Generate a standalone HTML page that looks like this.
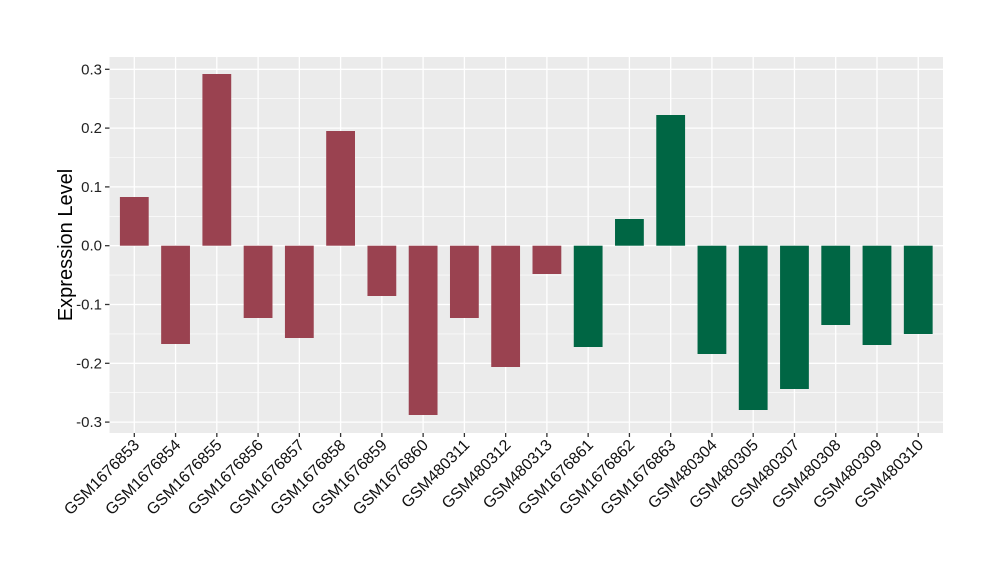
<!DOCTYPE html>
<html><head><style>body{margin:0;background:#fff}</style></head><body>
<svg width="1000" height="580" xmlns="http://www.w3.org/2000/svg" font-family="Liberation Sans, sans-serif">
<rect x="109.5" y="57" width="833.5" height="376" fill="#ebebeb"/>
<g stroke="#fff" stroke-width="0.6">
<line x1="109.5" x2="943" y1="98.7" y2="98.7"/><line x1="109.5" x2="943" y1="157.5" y2="157.5"/><line x1="109.5" x2="943" y1="216.3" y2="216.3"/><line x1="109.5" x2="943" y1="275.1" y2="275.1"/><line x1="109.5" x2="943" y1="333.9" y2="333.9"/><line x1="109.5" x2="943" y1="392.7" y2="392.7"/>
</g>
<g stroke="#fff" stroke-width="1.3" id="g"></g>
<g id="b"></g>
<g font-size="15" fill="#222" text-anchor="end" id="yl"></g>
<g font-size="16" fill="#111" text-anchor="end" id="xl"></g>
<text transform="translate(72,245) rotate(-90)" font-size="20" text-anchor="middle" fill="#000">Expression Level</text>
</svg>
<script>
var ns="http://www.w3.org/2000/svg";
function el(p,t,a,txt){var e=document.createElementNS(ns,t);for(var k in a)e.setAttribute(k,a[k]);if(txt)e.textContent=txt;document.getElementById(p).appendChild(e);}
var z=245.7,s=588;
[0.3,0.2,0.1,0,-0.1,-0.2,-0.3].forEach(function(v){var y=z-v*s;el("g","line",{x1:109.5,x2:943,y1:y,y2:y});el("g","line",{x1:105,x2:109.5,y1:y,y2:y,stroke:"#333"});el("yl","text",{x:102,y:y+5},v.toFixed(1).replace("-0.0","0.0"));});
var names=["GSM1676853","GSM1676854","GSM1676855","GSM1676856","GSM1676857","GSM1676858","GSM1676859","GSM1676860","GSM480311","GSM480312","GSM480313","GSM1676861","GSM1676862","GSM1676863","GSM480304","GSM480305","GSM480307","GSM480308","GSM480309","GSM480310"];
var ends=[197,344,74,318,338,131,296,415,318,367,274,347,219,115,354,410,389,325,345,334];
for(var i=0;i<20;i++){var cx=134.3+i*41.26;el("g","line",{x1:cx,x2:cx,y1:57,y2:433});el("g","line",{x1:cx,x2:cx,y1:433,y2:437,stroke:"#333"});
var y1=Math.min(z,ends[i]),h=Math.abs(ends[i]-z);el("b","rect",{x:cx-14.4,y:y1,width:28.8,height:h,fill:i<11?"#9a4250":"#006644"});
el("xl","text",{transform:"translate("+(cx+6)+",446) rotate(-45)"},names[i]);}
</script>
</body></html>
